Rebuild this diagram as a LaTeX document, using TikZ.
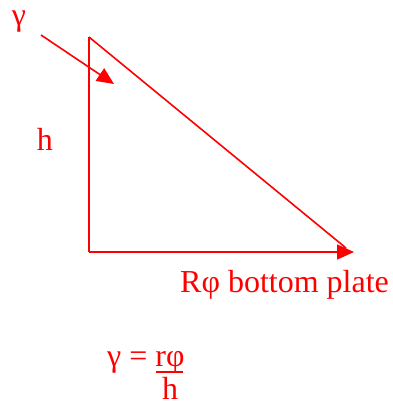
\documentclass[tikz,border=0pt]{standalone}
\usepackage{fontspec}
\setmainfont{Liberation Serif}
\usetikzlibrary{arrows.meta}
\begin{document}
\begin{tikzpicture}[x=1pt,y=-1pt,
  red line/.style={draw=red,line width=1.6pt},
  tip/.style={-{Triangle[length=17pt,width=15pt]}},
  lbl/.style={text=red,font=\fontsize{32}{36}\selectfont,inner sep=0pt}]
\useasboundingbox (0,0) rectangle (393,405);
\coordinate (top) at (89,37);
\coordinate (corner) at (89,252);
\coordinate (right) at (354,252);
\coordinate (hypend) at (346,248);
\coordinate (astart) at (41,35);
\coordinate (aend) at (114,84);
\draw[red line] (top) -- (corner);
\draw[red line,tip] (corner) -- (right);
\draw[red line] (top) -- (hypend);
\draw[red line,tip] (astart) -- (aend);
\node[lbl] (gamma) at (19,22) {γ};
\node[lbl] (h) at (45,139) {h};
\node[lbl,anchor=base west] (plate) at (180,292) {Rφ bottom plate};
\node[lbl,anchor=base west] (eq) at (107,366) {γ = rφ};
\draw[red,line width=1.5pt] (156,372) -- (183,372);
\node[lbl] (den) at (170,388) {h};
\end{tikzpicture}
\end{document}
